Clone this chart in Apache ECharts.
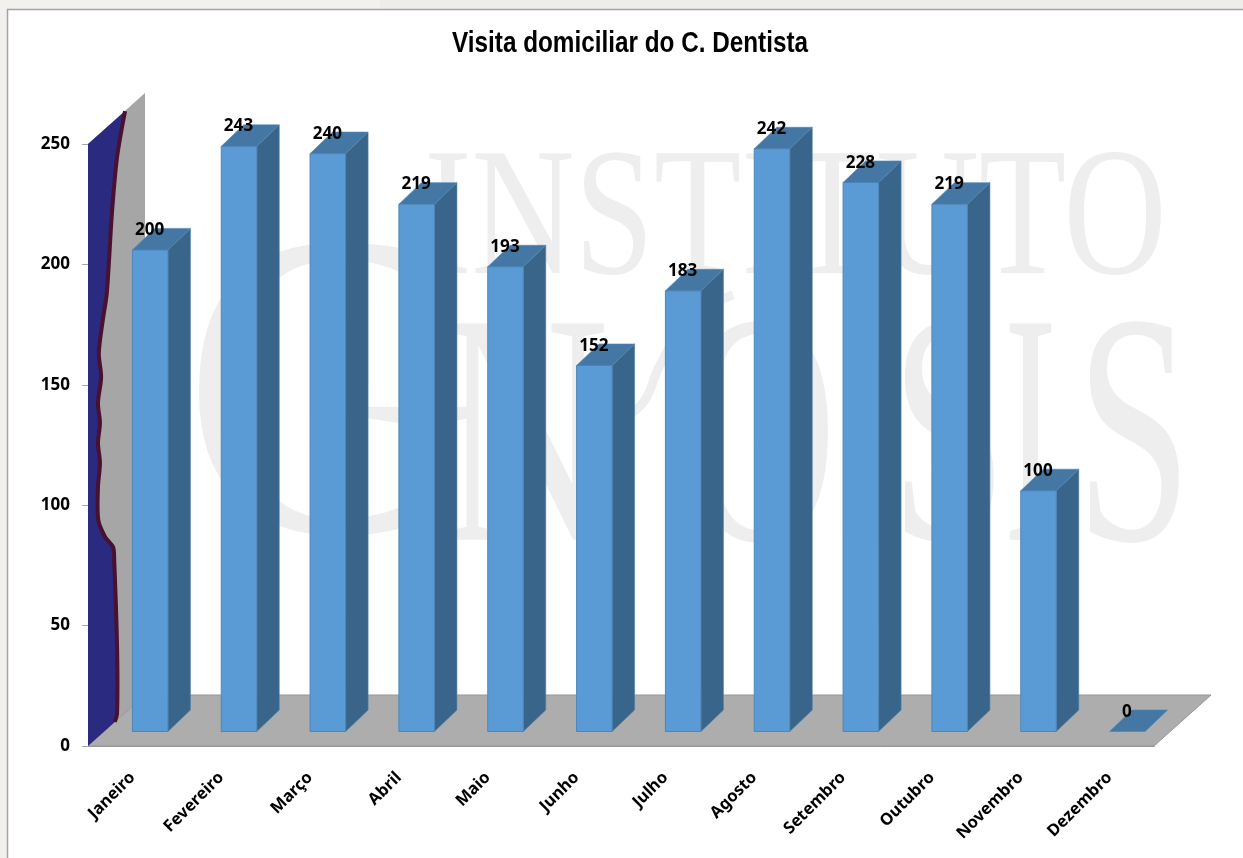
<!DOCTYPE html>
<html lang="pt">
<head>
    <meta charset="UTF-8">
    <title>Visita domiciliar do C. Dentista</title>
    <script src="https://cdn.jsdelivr.net/npm/echarts@6/dist/echarts.min.js"></script>
    <style>
        html, body { margin: 0; padding: 0; background: #f2f1ee; }
    </style>
</head>
<body>
<div id="main" style="width: 1243px;height:858px;"></div>

<script type="text/javascript">
    var chartTitle = 'Visita domiciliar do C. Dentista';
    var categories = ['Janeiro', 'Fevereiro', 'Março', 'Abril', 'Maio', 'Junho', 'Julho', 'Agosto', 'Setembro', 'Outubro', 'Novembro', 'Dezembro'];
    var visits = [200, 243, 240, 219, 193, 152, 183, 242, 228, 219, 100, 0];

    // the odd blue shape on the back wall: height on the y axis and how far into the wall
    var wallEdgeValue = [263.7, 244.6, 221.3, 188.1, 176.9, 163.2, 153.2, 142.4, 134.1, 125.8, 117.5, 107.6, 93.9, 86.8, 82.6, 77.2, 41.1, 13.7, 10];
    var wallEdgeDepth = [0.65, 0.51, 0.42, 0.33, 0.26, 0.19, 0.23, 0.175, 0.21, 0.175, 0.21, 0.175, 0.18, 0.30, 0.44, 0.46, 0.51, 0.51, 0.47];

    var labelFont = '"Noto Sans", sans-serif';
    var markColor = '#eeeeee';

    var myChart = echarts.init(document.getElementById('main'));

    // one letter of the watermark behind the chart
    function markLetter(text, x, y, size, scaleX) {
        return { type: 'text', z: -2, x: x, y: y, scaleX: scaleX, style: { text: text, fill: markColor, font: size + 'px "Liberation Serif"', verticalAlign: 'middle' } };
    }

    function renderRoom(params, api) {
        var sys = params.coordSys;
        var dx = 57, dy = -51;
        var left = sys.x, right = sys.x + sys.width, bottom = sys.y + sys.height, top = sys.y;
        var edge = wallEdgeValue.map(function (v, i) {
            return [left + wallEdgeDepth[i] * dx, api.coord([0, v])[1]];
        });
        return {
            type: 'group',
            children: [
                { type: 'polygon', shape: { points: [[left, bottom], [left, top], [left + dx, top + dy], [left + dx, bottom + dy]] }, style: { fill: '#a6a6a6' } },
                { type: 'polygon', shape: { points: [[left, bottom], [right, bottom], [right + dx, bottom + dy], [left + dx, bottom + dy]] }, style: { fill: '#adadad', stroke: '#979797', lineWidth: 1 } },
                { type: 'polygon', shape: { points: [[left, bottom], [left, top]].concat(edge) }, style: { fill: '#2a2a80' } },
                { type: 'polyline', shape: { points: edge, smooth: 0.3 }, style: { fill: null, stroke: '#4a1030', lineWidth: 4 } }
            ]
        };
    }

    function renderBar(params, api) {
        var i = api.value(0), v = api.value(1);
        var base = api.coord([i, 0]);
        var peak = api.coord([i, v]);
        var x = base[0], w = 35.5, shift = -14.5, dx = 22.5, dy = -21.5;
        var y0 = base[1] + shift, y1 = peak[1] + shift;
        var kids = [];
        if (v > 0) {
            kids.push({ type: 'polygon', shape: { points: [[x + w, y1], [x + w + dx, y1 + dy], [x + w + dx, y0 + dy], [x + w, y0]] }, style: { fill: '#39658a', stroke: '#4a7da8', lineWidth: 0.6 } });
            kids.push({ type: 'rect', shape: { x: x, y: y1, width: w, height: y0 - y1 }, style: { fill: '#5b9bd5', stroke: '#4c86ba', lineWidth: 1 } });
        }
        kids.push({ type: 'polygon', shape: { points: [[x, y1], [x + dx, y1 + dy], [x + w + dx, y1 + dy], [x + w, y1]] }, style: { fill: '#4577a5', stroke: '#4c86ba', lineWidth: 0.6 } });
        kids.push({ type: 'text', x: x + w / 2 - 0.5, y: y1 - 20, scaleX: 0.95, style: { text: String(v), fill: '#000', font: 'bold 18px ' + labelFont, align: 'center', verticalAlign: 'middle' } });
        return { type: 'group', children: kids };
    }

    var option = {
        backgroundColor: '#f2f1ee',
        animation: false,
        grid: { left: 88, right: 89, top: 144, bottom: 112 },
        xAxis: {
            type: 'category',
            data: categories,
            axisLine: { lineStyle: { color: '#979797' } },
            axisTick: { show: false },
            axisLabel: { rotate: 45, margin: 29, interval: 0, color: '#000', fontWeight: 'bold', fontSize: 16.5, fontFamily: labelFont }
        },
        yAxis: {
            type: 'value',
            min: 0,
            max: 250,
            interval: 50,
            splitLine: { show: false },
            axisLine: { show: true, lineStyle: { color: '#a6a6a6' } },
            axisTick: { show: true, length: 6, lineStyle: { color: '#a6a6a6' } },
            axisLabel: { margin: 18, padding: [5, 0, 0, 0], color: '#000', fontWeight: 'bold', fontSize: 17, fontFamily: labelFont }
        },
        graphic: [
            { type: 'rect', z: -4, shape: { x: 380, y: 0, width: 863, height: 9 }, style: { fill: '#eeedea' } },
            { type: 'rect', z: -3, shape: { x: 7.5, y: 9.5, width: 1300, height: 900 }, style: { fill: '#fff', stroke: '#a3a3a3', lineWidth: 1.5 } },
            markLetter('INSTITUTO', 424, 225, 183, 0.78),
            markLetter('G', 182, 417, 436, 0.95),
            markLetter('N', 440, 453, 330, 0.71),
            markLetter('O', 684, 453, 330, 0.64),
            markLetter('S', 891, 453, 330, 0.63),
            markLetter('I', 1004, 453, 330, 0.48),
            markLetter('S', 1076, 453, 330, 0.63),
            // the curved stroke over the O of the watermark
            { type: 'polyline', z: -2, shape: { points: [[733, 295], [690, 318], [660, 365], [645, 400], [625, 418]], smooth: 0.4 }, style: { fill: null, stroke: markColor, lineWidth: 9 } },
            { type: 'text', z: 5, x: 452, y: 44, scaleX: 0.838, style: { text: chartTitle, fill: '#000', font: 'bold 29px "Liberation Sans", sans-serif', verticalAlign: 'middle' } }
        ],
        series: [
            { type: 'custom', silent: true, clip: false, z: 1, renderItem: renderRoom, data: [[0, 0]] },
            { type: 'custom', silent: true, clip: false, z: 2, renderItem: renderBar, encode: { x: 0, y: 1 }, data: visits.map(function (v, i) { return [i, v]; }) }
        ]
    };
    myChart.setOption(option);
</script>
</body>
</html>
